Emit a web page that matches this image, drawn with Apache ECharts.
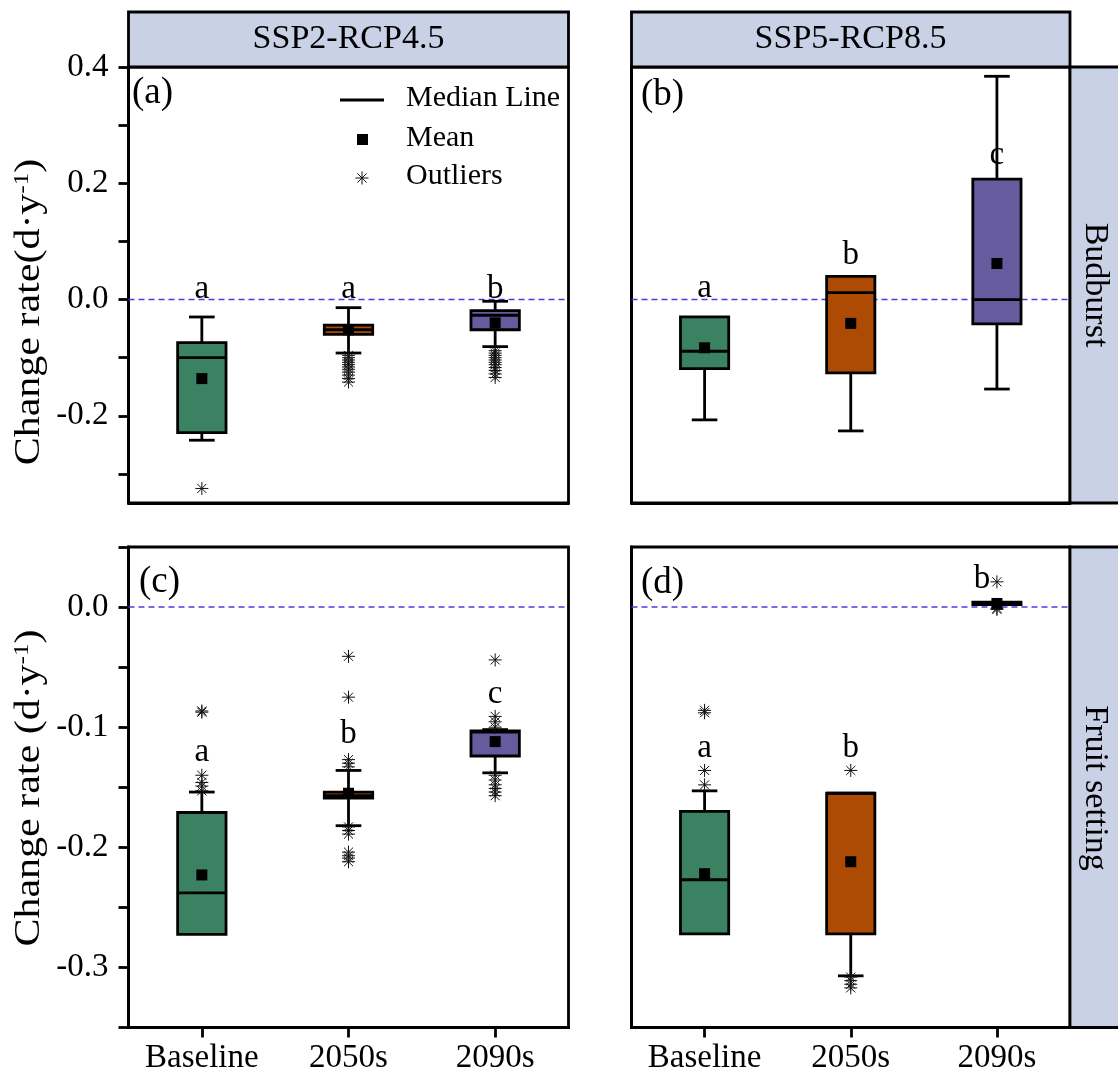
<!DOCTYPE html>
<html lang="en">

<head>
    <meta charset="UTF-8">
    <title>Budburst / Fruit setting change rate</title>
    <script src="https://cdn.jsdelivr.net/npm/echarts@6/dist/echarts.min.js"></script>
    <style>
        body { margin: 0; background: #fff; }
    </style>
</head>

<body>
    <div id="main" style="width: 1118px;height:1076px;"></div>
    <script type="text/javascript">
        // categories and colours
        var categories = ['Baseline', '2050s', '2090s'];
        var boxColors = ['#3b8262', '#ad4a03', '#675b9f'];

        // box stats per category: [min, Q1, median, Q3, max]
        var budSSP2Box = [
            [-0.242, -0.229, -0.100, -0.074, -0.030],
            [-0.092, -0.060, -0.052, -0.044, -0.014],
            [-0.081, -0.052, -0.027, -0.019, -0.003]
        ];
        var budSSP2Mean = [-0.136, -0.052, -0.040];
        var budSSP2Out = [
            [-0.325],
            [-0.096, -0.100, -0.104, -0.108, -0.112, -0.116, -0.120, -0.125, -0.130, -0.136, -0.142],
            [-0.088, -0.092, -0.096, -0.100, -0.104, -0.108, -0.112, -0.117, -0.122, -0.128, -0.134]
        ];
        var budSSP2Letters = ['a', 'a', 'b'];
        var budSSP2LetterY = [0.017, 0.017, 0.017];

        var budSSP5Box = [
            [-0.207, -0.119, -0.089, -0.030, -0.030],
            [-0.226, -0.126, 0.012, 0.040, 0.040],
            [-0.154, -0.042, 0.000, 0.207, 0.384]
        ];
        var budSSP5Mean = [-0.083, -0.041, 0.062];
        var budSSP5Out = [[], [], []];
        var budSSP5Letters = ['a', 'b', 'c'];
        var budSSP5LetterY = [0.019, 0.076, 0.248];

        var fruitSSP2Box = [
            [-0.2725, -0.2725, -0.238, -0.171, -0.154],
            [-0.182, -0.159, -0.157, -0.154, -0.136],
            [-0.138, -0.124, -0.104, -0.103, -0.102]
        ];
        var fruitSSP2Mean = [-0.223, -0.155, -0.112];
        var fruitSSP2Out = [
            [-0.0865, -0.0875, -0.140, -0.146, -0.149, -0.153],
            [-0.041, -0.075, -0.127, -0.130, -0.133, -0.183, -0.186, -0.189, -0.204, -0.207, -0.209, -0.212],
            [-0.044, -0.091, -0.0955, -0.100, -0.140, -0.144, -0.148, -0.151, -0.154, -0.157]
        ];
        var fruitSSP2Letters = ['a', 'b', 'c'];
        var fruitSSP2LetterY = [-0.121, -0.106, -0.0725];

        var fruitSSP5Box = [
            [-0.272, -0.272, -0.227, -0.170, -0.153],
            [-0.307, -0.272, -0.155, -0.155, -0.155],
            [0.0015, 0.002, 0.003, 0.004, 0.0045]
        ];
        var fruitSSP5Mean = [-0.222, -0.212, 0.003];
        var fruitSSP5Out = [
            [-0.086, -0.088, -0.136, -0.148],
            [-0.136, -0.308, -0.311, -0.314, -0.317],
            [0.021, -0.001, -0.002]
        ];
        var fruitSSP5Letters = ['a', 'b', 'b'];
        var fruitSSP5LetterY = [-0.1175, -0.118, 0.023];

        // y axis ticks and labels
        var budTicks = [-0.3, -0.2, -0.1, 0, 0.1, 0.2, 0.3, 0.4];
        var budLabels = [-0.2, 0, 0.2, 0.4];
        var fruitTicks = [-0.35, -0.3, -0.25, -0.2, -0.15, -0.1, -0.05, 0, 0.05];
        var fruitLabels = [-0.3, -0.2, -0.1, 0];

        var ff = "'Liberation Serif', 'Times New Roman', serif";
        var starPath = 'path://M0,-6L0,6M-6,0L6,0M-4.2,-4.2L4.2,4.2M-4.2,4.2L4.2,-4.2';
        var LW = 2.8;

        var myChart = echarts.init(document.getElementById('main'));

        // box + whiskers drawn with custom series
        function renderBox(params, api) {
            var i = api.value(0);
            var pMin = api.coord([i, api.value(1)]);
            var pQ1 = api.coord([i, api.value(2)]);
            var pMed = api.coord([i, api.value(3)]);
            var pQ3 = api.coord([i, api.value(4)]);
            var pMax = api.coord([i, api.value(5)]);
            var band = api.size([1, 0])[0];
            var bw = band * 0.33, cw = band * 0.175;
            var x = pMin[0];
            var ls = { stroke: '#000', lineWidth: LW };
            var kids = [];
            if (pMax[1] < pQ3[1] - 1) {
                kids.push({ type: 'line', shape: { x1: x, y1: pMax[1], x2: x, y2: pQ3[1] }, style: ls });
                kids.push({ type: 'line', shape: { x1: x - cw / 2, y1: pMax[1], x2: x + cw / 2, y2: pMax[1] }, style: ls });
            }
            if (pMin[1] > pQ1[1] + 1) {
                kids.push({ type: 'line', shape: { x1: x, y1: pQ1[1], x2: x, y2: pMin[1] }, style: ls });
                kids.push({ type: 'line', shape: { x1: x - cw / 2, y1: pMin[1], x2: x + cw / 2, y2: pMin[1] }, style: ls });
            }
            kids.push({
                type: 'rect',
                shape: { x: x - bw / 2, y: pQ3[1], width: bw, height: pQ1[1] - pQ3[1] },
                style: { fill: boxColors[i], stroke: '#000', lineWidth: LW }
            });
            kids.push({ type: 'line', shape: { x1: x - bw / 2, y1: pMed[1], x2: x + bw / 2, y2: pMed[1] }, style: ls });
            return { type: 'group', children: kids };
        }

        // dashed zero line across the whole grid
        function renderZero(params, api) {
            var cs = params.coordSys;
            var y = api.coord([0, 0])[1];
            return {
                type: 'line',
                shape: { x1: cs.x, y1: y, x2: cs.x + cs.width, y2: y },
                style: { stroke: '#4a3de0', lineWidth: 1.4, lineDash: [6, 4] }
            };
        }

        function panelSeries(idx, box, mean, out, letters, letterY, extraLetter) {
            var boxData = box.map(function (b, i) { return [i].concat(b); });
            var outData = [];
            out.forEach(function (arr, i) {
                arr.forEach(function (v) { outData.push([i, v]); });
            });
            var letterData = letters.map(function (l, i) {
                var item = { value: [i, letterY[i]], name: l };
                if (extraLetter && extraLetter[i]) item.label = extraLetter[i];
                return item;
            });
            return [
                {
                    type: 'custom', xAxisIndex: idx, yAxisIndex: idx, z: 1, silent: true,
                    renderItem: renderZero, data: [[0, 0]]
                },
                {
                    type: 'custom', xAxisIndex: idx, yAxisIndex: idx, z: 2,
                    renderItem: renderBox, data: boxData,
                    encode: { x: 0, y: [1, 2, 3, 4, 5] }
                },
                {
                    type: 'scatter', xAxisIndex: idx, yAxisIndex: idx, z: 3,
                    symbol: starPath, symbolSize: 13,
                    itemStyle: { color: 'rgba(0,0,0,0)', borderColor: '#111', borderWidth: 1, opacity: 1 },
                    data: outData
                },
                {
                    type: 'scatter', xAxisIndex: idx, yAxisIndex: idx, z: 4,
                    symbol: 'rect', symbolSize: 11,
                    itemStyle: { color: '#000', opacity: 1 },
                    data: mean.map(function (m, i) { return [i, m]; })
                },
                {
                    type: 'scatter', xAxisIndex: idx, yAxisIndex: idx, z: 5,
                    symbolSize: 1, itemStyle: { color: 'rgba(0,0,0,0)', opacity: 1 },
                    label: {
                        show: true, position: 'inside', formatter: '{b}',
                        fontSize: 33, fontFamily: ff, color: '#000',
                        textBorderWidth: 0, textBorderColor: 'transparent'
                    },
                    data: letterData
                }
            ];
        }

        var grids = [
            { left: 128.5, top: 67, width: 440, height: 436 },
            { left: 631.5, top: 67, width: 438.5, height: 436 },
            { left: 128.5, top: 547, width: 440, height: 480.5 },
            { left: 631.5, top: 547, width: 438.5, height: 480.5 }
        ].map(function (g) {
            g.show = true;
            g.borderColor = '#000';
            g.borderWidth = LW;
            g.backgroundColor = 'transparent';
            return g;
        });

        function xAxisFor(idx, showLabels) {
            return {
                type: 'category', gridIndex: idx, data: categories, boundaryGap: true,
                axisLine: { show: true, onZero: false, lineStyle: { color: '#000', width: LW } },
                axisTick: { show: showLabels, alignWithLabel: true, length: 10, lineStyle: { color: '#000', width: LW } },
                axisLabel: { show: showLabels, interval: 0, fontSize: 33, fontFamily: ff, color: '#000', margin: 14 },
                splitLine: { show: false }
            };
        }

        function yAxisFor(idx, min, max, ticks, labels, showLabels) {
            return {
                type: 'value', gridIndex: idx, min: min, max: max,
                axisLine: { show: true, onZero: false, lineStyle: { color: '#000', width: LW } },
                axisTick: { show: showLabels, customValues: ticks, length: 10, lineStyle: { color: '#000', width: LW } },
                axisLabel: {
                    show: showLabels, customValues: labels, fontSize: 33, fontFamily: ff, color: '#000', margin: 20,
                    formatter: function (v) { return (Math.abs(v) < 1e-9 ? 0 : v).toFixed(1); }
                },
                splitLine: { show: false },
                minorTick: { show: false }
            };
        }

        var series = []
            .concat(panelSeries(0, budSSP2Box, budSSP2Mean, budSSP2Out, budSSP2Letters, budSSP2LetterY))
            .concat(panelSeries(1, budSSP5Box, budSSP5Mean, budSSP5Out, budSSP5Letters, budSSP5LetterY))
            .concat(panelSeries(2, fruitSSP2Box, fruitSSP2Mean, fruitSSP2Out, fruitSSP2Letters, fruitSSP2LetterY))
            .concat(panelSeries(3, fruitSSP5Box, fruitSSP5Mean, fruitSSP5Out, fruitSSP5Letters, fruitSSP5LetterY,
                { 2: { offset: [-15, 0] } }));

        var stripStyle = { fill: '#c9d1e6', stroke: '#000', lineWidth: LW };
        var txt = function (text, x, y, size, extra) {
            var el = {
                type: 'text', x: x, y: y, z: 10,
                style: {
                    text: text, fontSize: size, fontFamily: ff,
                    fill: '#000', align: 'left', verticalAlign: 'middle'
                }
            };
            if (extra) {
                Object.keys(extra).forEach(function (k) {
                    if (k === 'style') Object.assign(el.style, extra.style);
                    else el[k] = extra[k];
                });
            }
            return el;
        };
        var seg = function (x1, y1, x2, y2, w, c) {
            return { type: 'line', z: 10, shape: { x1: x1, y1: y1, x2: x2, y2: y2 }, style: { stroke: c || '#000', lineWidth: w } };
        };

        // rotated axis title with superscript, built from plain text pieces
        var measureCtx = document.createElement('canvas').getContext('2d');
        function measure(s, size) {
            measureCtx.font = size + 'px ' + ff;
            return measureCtx.measureText(s).width;
        }
        function yTitle(mainText, cx, cy) {
            var big = 35, small = 21;
            var parts = [[mainText, big, 0], ['-1', small, -8], [')', big, 0]];
            var total = 0;
            parts.forEach(function (p) { p.push(measure(p[0], p[1])); total += p[3]; });
            var x = -total / 2;
            var kids = parts.map(function (p) {
                var t = txt(p[0], x, p[2], p[1]);
                x += p[3];
                return t;
            });
            return { type: 'group', x: cx, y: cy, rotation: Math.PI / 2, scaleX: 1.2, z: 10, children: kids };
        }

        var graphic = [
            // facet strips
            { type: 'rect', shape: { x: 128.5, y: 12, width: 440, height: 55 }, style: stripStyle, z: 5 },
            { type: 'rect', shape: { x: 631.5, y: 12, width: 438.5, height: 55 }, style: stripStyle, z: 5 },
            { type: 'rect', shape: { x: 1070, y: 67, width: 60, height: 436 }, style: stripStyle, z: 5 },
            { type: 'rect', shape: { x: 1070, y: 547, width: 60, height: 480.5 }, style: stripStyle, z: 5 },
            txt('SSP2-RCP4.5', 348.5, 39, 34, { style: { align: 'center' } }),
            txt('SSP5-RCP8.5', 850.5, 39, 34, { style: { align: 'center' } }),
            txt('Budburst', 1095, 285, 34, { rotation: -Math.PI / 2, style: { align: 'center' } }),
            txt('Fruit setting', 1095, 788, 34, { rotation: -Math.PI / 2, style: { align: 'center' } }),
            // panel tags
            txt('(a)', 132, 93, 37),
            txt('(b)', 641, 95, 37),
            txt('(c)', 139, 582, 37),
            txt('(d)', 641, 583, 37),
            // legend
            seg(340, 100, 384, 100, LW),
            { type: 'rect', shape: { x: 357, y: 134, width: 11, height: 11 }, style: { fill: '#000' }, z: 10 },
            seg(362, 171.5, 362, 184.5, 1, '#111'),
            seg(355.5, 178, 368.5, 178, 1, '#111'),
            seg(357.4, 173.4, 366.6, 182.6, 1, '#111'),
            seg(357.4, 182.6, 366.6, 173.4, 1, '#111'),
            txt('Median Line', 406, 98, 30),
            txt('Mean', 406, 138, 30),
            txt('Outliers', 406, 176, 30),
            // y axis names
            yTitle('Change rate(d·y', 30, 312),
            yTitle('Change rate (d·y', 30, 788)
        ];

        myChart.setOption({
            animation: false,
            grid: grids,
            xAxis: [xAxisFor(0, false), xAxisFor(1, false), xAxisFor(2, true), xAxisFor(3, true)],
            yAxis: [
                yAxisFor(0, -0.35, 0.4, budTicks, budLabels, true),
                yAxisFor(1, -0.35, 0.4, budTicks, budLabels, false),
                yAxisFor(2, -0.35, 0.05, fruitTicks, fruitLabels, true),
                yAxisFor(3, -0.35, 0.05, fruitTicks, fruitLabels, false)
            ],
            series: series,
            graphic: graphic
        });
    </script>
</body>

</html>
